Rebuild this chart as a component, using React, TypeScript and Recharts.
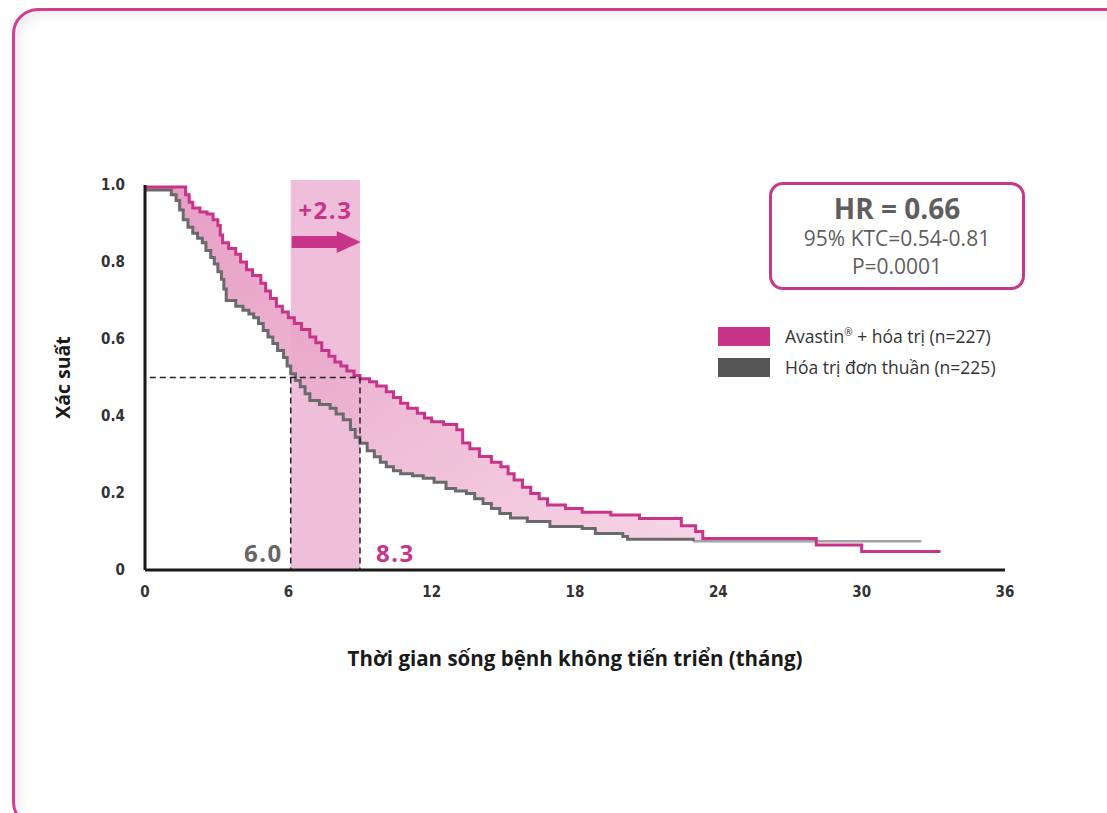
import React from "react";
import {
    ComposedChart, Line, Area, XAxis, YAxis, ReferenceArea, ReferenceLine
} from "recharts";

// Kaplan-Meier steps (time in months, survival probability)
const pinkTimes = [0, 1.7, 1.85, 2.0, 2.3, 2.6, 2.85, 3.05, 3.15, 3.25, 3.5, 3.8, 4.0, 4.25, 4.5, 4.85, 5.05, 5.25, 5.5, 5.75, 6.0, 6.25, 6.55, 6.9, 7.15, 7.4, 7.7, 7.95, 8.2, 8.45, 8.75, 9.0, 9.4, 9.7, 10.1, 10.4, 10.7, 11.0, 11.4, 11.7, 12.0, 12.5, 13.05, 13.3, 13.6, 14.0, 14.5, 14.9, 15.2, 15.45, 15.8, 16.15, 16.5, 16.85, 17.6, 18.3, 19.5, 20.7, 22.45, 23.05, 23.35, 28.1, 30.0, 33.3];
const pinkValues = [0.995, 0.975, 0.955, 0.94, 0.93, 0.925, 0.91, 0.895, 0.87, 0.85, 0.835, 0.82, 0.8, 0.78, 0.765, 0.745, 0.725, 0.705, 0.685, 0.67, 0.655, 0.64, 0.625, 0.605, 0.59, 0.57, 0.555, 0.54, 0.53, 0.517, 0.505, 0.497, 0.489, 0.478, 0.463, 0.448, 0.433, 0.42, 0.407, 0.395, 0.385, 0.378, 0.364, 0.33, 0.315, 0.295, 0.28, 0.268, 0.25, 0.234, 0.215, 0.199, 0.185, 0.169, 0.16, 0.15, 0.143, 0.134, 0.115, 0.1, 0.082, 0.065, 0.048, 0.048];

const grayTimes = [0, 1.1, 1.3, 1.45, 1.6, 1.8, 2.0, 2.2, 2.4, 2.55, 2.75, 2.9, 3.05, 3.2, 3.3, 3.4, 3.8, 4.1, 4.35, 4.55, 4.75, 4.95, 5.15, 5.35, 5.55, 5.8, 5.95, 6.1, 6.3, 6.5, 6.7, 6.9, 7.3, 7.75, 8.0, 8.3, 8.6, 8.8, 9.0, 9.3, 9.6, 9.85, 10.1, 10.4, 10.7, 11.2, 11.65, 12.1, 12.6, 13.0, 13.45, 13.8, 14.15, 14.5, 14.85, 15.3, 16.0, 16.95, 18.3, 18.85, 20.0, 20.2, 22.95];
const grayValues = [0.987, 0.975, 0.96, 0.935, 0.91, 0.89, 0.875, 0.862, 0.85, 0.83, 0.812, 0.795, 0.775, 0.755, 0.73, 0.7, 0.685, 0.675, 0.665, 0.655, 0.64, 0.622, 0.605, 0.588, 0.57, 0.552, 0.53, 0.51, 0.492, 0.476, 0.458, 0.44, 0.43, 0.42, 0.405, 0.39, 0.365, 0.345, 0.329, 0.31, 0.294, 0.28, 0.268, 0.258, 0.25, 0.245, 0.238, 0.228, 0.212, 0.205, 0.199, 0.185, 0.173, 0.16, 0.147, 0.135, 0.126, 0.113, 0.108, 0.095, 0.087, 0.08, 0.075];
// flat tail of the control arm, drawn lighter in the source
const grayTailTimes = [22.95, 32.5];
const grayTailValues = [0.075, 0.075];

const xTicks = [0, 6, 12, 18, 24, 30, 36];
const yTicks = [0, 0.2, 0.4, 0.6, 0.8, 1.0];

const medianGray = 6.1;
const medianPink = 9.0;
const bandEnd = 23.35;

const PINK = "#c8348a";
const GRAY = "#6a6a6a";

const pinkData = pinkTimes.map((t, i) => ({ t, v: pinkValues[i] }));
const grayData = grayTimes.map((t, i) => ({ t, v: grayValues[i] }));
const grayTailData = grayTailTimes.map((t, i) => ({ t, v: grayTailValues[i] }));

// step function lookup for the shaded gap between the two curves
const stepAt = (times: number[], vals: number[], t: number) => {
    let v = vals[0];
    for (let i = 0; i < times.length; i++) {
        if (times[i] <= t) v = vals[i];
    }
    return v;
};
const gapTimes = Array.from(new Set([...pinkTimes, ...grayTimes]))
    .filter(t => t <= bandEnd)
    .sort((a, b) => a - b);
const gapData = gapTimes.map(t => ({
    t,
    gap: [stepAt(grayTimes, grayValues, t), stepAt(pinkTimes, pinkValues, t)],
}));

const tickStyle = { fontSize: 15, fill: "#333", fontWeight: 700, fontFamily: "'DejaVu Sans Condensed', 'Open Sans', sans-serif" };

export default function App() {
    return (
        <div style={{ position: "fixed", left: 0, top: 0, width: 1107, height: 813, overflow: "hidden", background: "#fff", fontFamily: "'Open Sans', sans-serif" }}>
            {/* card frame */}
            <div style={{
                position: "absolute", left: 12, top: 8, width: 1120, height: 820,
                border: "3px solid #cf3f93", borderRadius: 26, boxSizing: "border-box",
                boxShadow: "inset 5px 5px 12px rgba(0,0,0,0.07)"
            }} />

            <div style={{ position: "absolute", left: 0, top: 0 }}>
                <ComposedChart width={1107} height={813} margin={{ top: 185, right: 102, bottom: 213, left: 0 }}>
                    <defs>
                        <linearGradient id="gapFill" x1="0" y1="0" x2="1" y2="1">
                            <stop offset="0%" stopColor="#e391bd" />
                            <stop offset="100%" stopColor="#f5d0e3" />
                        </linearGradient>
                    </defs>
                    <XAxis
                        type="number"
                        dataKey="t"
                        domain={[0, 36]}
                        ticks={xTicks}
                        allowDataOverflow
                        height={30}
                        tickLine={false}
                        tickMargin={10}
                        axisLine={{ stroke: "#1a1a1a", strokeWidth: 3 }}
                        tick={tickStyle}
                        label={(p: any) => {
                            const vb = p.viewBox;
                            return (
                                <text x={vb.x + vb.width / 2} y={vb.y + 88} textAnchor="middle" dominantBaseline="central"
                                    style={{ fontSize: 20.5, fontWeight: 700, fill: "#1a1a1a", fontFamily: "'Open Sans', sans-serif" }}>
                                    Thời gian sống bệnh không tiến triển (tháng)
                                </text>
                            );
                        }}
                    />
                    <YAxis
                        type="number"
                        domain={[0, 1]}
                        ticks={yTicks}
                        width={145}
                        tickLine={false}
                        tickMargin={14}
                        axisLine={{ stroke: "#1a1a1a", strokeWidth: 3 }}
                        tick={tickStyle}
                        tickFormatter={(v) => (v === 0 ? "0" : v.toFixed(1))}
                        label={(p: any) => {
                            const vb = p.viewBox;
                            const cy = vb.y + vb.height / 2;
                            return (
                                <text x={62} y={cy} textAnchor="middle" dominantBaseline="central" transform={`rotate(-90 62 ${cy})`}
                                    style={{ fontSize: 19.5, fontWeight: 700, fill: "#1a1a1a", fontFamily: "'Open Sans', sans-serif" }}>
                                    Xác suất
                                </text>
                            );
                        }}
                    />

                    {/* median gain band */}
                    <ReferenceArea
                        x1={medianGray}
                        x2={medianPink}
                        y1={0}
                        y2={1.013}
                        ifOverflow="visible"
                        fill="#efbedb"
                        fillOpacity={1}
                        stroke="none"
                        label={(p: any) => {
                            const vb = p.viewBox;
                            const ay = vb.y + 62;
                            return (
                                <g>
                                    <text x={vb.x + vb.width / 2} y={vb.y + 30} textAnchor="middle" dominantBaseline="central"
                                        style={{ fontSize: 24, fontWeight: 700, fill: PINK, letterSpacing: 1.5 }}>
                                        +2.3
                                    </text>
                                    <path d={`M${vb.x + 1},${ay - 6} L${vb.x + 46},${ay - 6} L${vb.x + 46},${ay - 11} L${vb.x + 70},${ay} L${vb.x + 46},${ay + 11} L${vb.x + 46},${ay + 6} L${vb.x + 1},${ay + 6} Z`}
                                        fill={PINK} />
                                </g>
                            );
                        }}
                    />

                    <Area
                        data={gapData}
                        dataKey="gap"
                        type="stepAfter"
                        stroke="none"
                        fill="url(#gapFill)"
                        fillOpacity={0.9}
                        isAnimationActive={false}
                    />

                    <Line data={grayTailData} dataKey="v" type="stepAfter" stroke="#a3a3a3" strokeWidth={2.5} dot={false} isAnimationActive={false} />
                    <Line data={grayData} dataKey="v" type="stepAfter" stroke={GRAY} strokeWidth={3} dot={false} isAnimationActive={false} />
                    <Line data={pinkData} dataKey="v" type="stepAfter" stroke={PINK} strokeWidth={3} dot={false} isAnimationActive={false} />

                    {/* median guides */}
                    <ReferenceLine segment={[{ x: 0.2, y: 0.5 }, { x: medianPink, y: 0.5 }]} stroke="#222" strokeWidth={1.5} strokeDasharray="6 4" ifOverflow="visible" />
                    <ReferenceLine
                        segment={[{ x: medianGray, y: 0.5 }, { x: medianGray, y: 0 }]}
                        stroke="#222" strokeWidth={1.5} strokeDasharray="6 4"
                        label={(p: any) => {
                            const vb = p.viewBox;
                            return (
                                <text x={vb.x - 8} y={vb.y + vb.height - 18} textAnchor="end" dominantBaseline="central"
                                    style={{ fontSize: 24, fontWeight: 700, fill: "#666", letterSpacing: 1.5 }}>
                                    6.0
                                </text>
                            );
                        }}
                    />
                    <ReferenceLine
                        segment={[{ x: medianPink, y: 0.5 }, { x: medianPink, y: 0 }]}
                        stroke="#222" strokeWidth={1.5} strokeDasharray="6 4"
                        label={(p: any) => {
                            const vb = p.viewBox;
                            return (
                                <text x={vb.x + 16} y={vb.y + vb.height - 18} textAnchor="start" dominantBaseline="central"
                                    style={{ fontSize: 24, fontWeight: 700, fill: PINK, letterSpacing: 1.5 }}>
                                    8.3
                                </text>
                            );
                        }}
                    />
                </ComposedChart>
            </div>

            {/* hazard ratio box */}
            <div style={{
                position: "absolute", left: 769, top: 182, width: 256, height: 108, boxSizing: "border-box",
                border: "3px solid #c9378b", borderRadius: 14, textAlign: "center", color: "#5e5e5e"
            }}>
                <div style={{ fontSize: 28, fontWeight: 700, lineHeight: "32px", marginTop: 7 }}>HR = 0.66</div>
                <div style={{ fontSize: 21, lineHeight: "28px" }}>95% KTC=0.54-0.81</div>
                <div style={{ fontSize: 21, lineHeight: "28px" }}>P=0.0001</div>
            </div>

            {/* legend */}
            <div style={{ position: "absolute", left: 718, top: 326, fontSize: 17.5, color: "#333" }}>
                <div style={{ display: "flex", alignItems: "center", height: 20, marginBottom: 11 }}>
                    <div style={{ width: 52, height: 19, background: PINK, marginRight: 15 }} />
                    <span>Avastin<sup style={{ fontSize: 10 }}>®</sup> + hóa trị (n=227)</span>
                </div>
                <div style={{ display: "flex", alignItems: "center", height: 20 }}>
                    <div style={{ width: 52, height: 19, background: "#555", marginRight: 15 }} />
                    <span>Hóa trị đơn thuần (n=225)</span>
                </div>
            </div>
        </div>
    );
}
